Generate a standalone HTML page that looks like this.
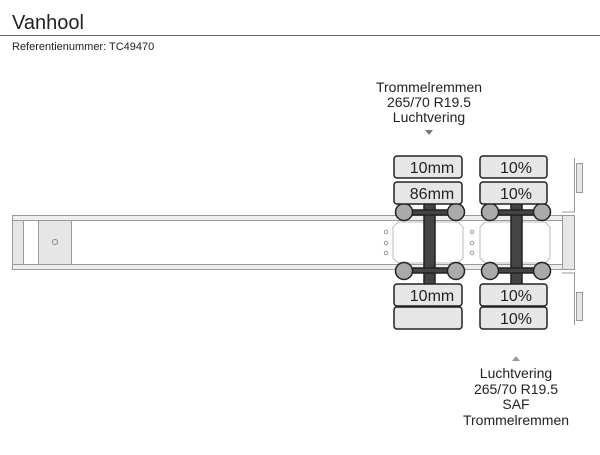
<!DOCTYPE html>
<html><head><style>
body{margin:0;width:600px;height:450px;background:#fff;overflow:hidden;font-family:"Liberation Sans",Arial,sans-serif}
</style></head><body>
<svg width="600" height="450" xmlns="http://www.w3.org/2000/svg" font-family="Liberation Sans, Arial, sans-serif">
<text x="12" y="29" font-size="20" fill="#222">Vanhool</text>
<line x1="0" y1="35.5" x2="600" y2="35.5" stroke="#666" stroke-width="1"/>
<text x="12" y="50" font-size="11" fill="#222">Referentienummer: TC49470</text>

<g font-size="14" fill="#222" text-anchor="middle">
<text x="429" y="92">Trommelremmen</text>
<text x="429" y="107">265/70 R19.5</text>
<text x="429" y="122">Luchtvering</text>
<text x="516" y="378">Luchtvering</text>
<text x="516" y="394">265/70 R19.5</text>
<text x="516" y="409">SAF</text>
<text x="516" y="425">Trommelremmen</text>
</g>
<polygon points="425,130 433,130 429,135" fill="#777"/>
<polygon points="512,361 520,361 516,356" fill="#999"/>

<rect x="12.5" y="215.5" width="562" height="54" fill="#fff" stroke="#999"/>
<rect x="12.5" y="215.5" width="562" height="5" fill="#eee" stroke="#999"/>
<rect x="12.5" y="264.5" width="562" height="5" fill="#eee" stroke="#999"/>
<rect x="12.5" y="220.5" width="11" height="44" fill="#e6e6e6" stroke="#999"/>
<rect x="38.5" y="220.5" width="33" height="44" fill="#e6e6e6" stroke="#999"/>
<circle cx="55" cy="242" r="2.5" fill="none" stroke="#888"/>
<path d="M398,222 H458 L463,227 V258 L458,263 H398 L393,258 V227 Z" fill="#fff" stroke="#bbb"/>
<path d="M485,222 H545 L550,227 V258 L545,263 H485 L480,258 V227 Z" fill="#fff" stroke="#bbb"/>
<g fill="none" stroke="#999"><circle cx="386" cy="232" r="1.7"/><circle cx="386" cy="243" r="1.7"/><circle cx="386" cy="253" r="1.7"/>
<circle cx="472" cy="232" r="1.7"/><circle cx="472" cy="243" r="1.7"/><circle cx="472" cy="253" r="1.7"/></g>
<rect x="562.5" y="215.5" width="12" height="54" fill="#e6e6e6" stroke="#999"/>
<path d="M574.5,158 V212 L562,212 M574.5,325 V273 L562,273" fill="none" stroke="#999"/>
<rect x="576.5" y="163.5" width="6" height="29" fill="#e6e6e6" stroke="#999"/>
<rect x="576.5" y="292.5" width="6" height="28" fill="#e6e6e6" stroke="#999"/>

<g stroke="#222" stroke-width="1.5">
<rect x="424" y="200" width="11" height="86" fill="#444"/>
<rect x="511" y="200" width="11" height="86" fill="#444"/>
<rect x="404" y="210" width="52" height="5" fill="#444"/>
<rect x="404" y="268" width="52" height="5" fill="#444"/>
<rect x="490" y="210" width="52" height="5" fill="#444"/>
<rect x="490" y="268" width="52" height="5" fill="#444"/>
<g fill="#aaa">
<circle cx="404" cy="212" r="8.5"/><circle cx="456" cy="212" r="8.5"/>
<circle cx="404" cy="271" r="8.5"/><circle cx="456" cy="271" r="8.5"/>
<circle cx="490" cy="212" r="8.5"/><circle cx="542" cy="212" r="8.5"/>
<circle cx="490" cy="271" r="8.5"/><circle cx="542" cy="271" r="8.5"/>
</g>
<g fill="#e6e6e6">
<rect x="394" y="156" width="68" height="22" rx="3"/>
<rect x="394" y="182" width="68" height="22" rx="3"/>
<rect x="394" y="284" width="68" height="22" rx="3"/>
<rect x="394" y="307" width="68" height="22" rx="3"/>
<rect x="480" y="156" width="67" height="22" rx="3"/>
<rect x="480" y="182" width="67" height="22" rx="3"/>
<rect x="480" y="284" width="67" height="22" rx="3"/>
<rect x="480" y="307" width="67" height="22" rx="3"/>
</g>
</g>
<g font-size="16" fill="#222" text-anchor="middle">
<text x="432" y="173">10mm</text>
<text x="432" y="199">86mm</text>
<text x="432" y="301">10mm</text>
<text x="516" y="173">10%</text>
<text x="516" y="199">10%</text>
<text x="516" y="301">10%</text>
<text x="516" y="324">10%</text>
</g>
</svg>
</body></html>
